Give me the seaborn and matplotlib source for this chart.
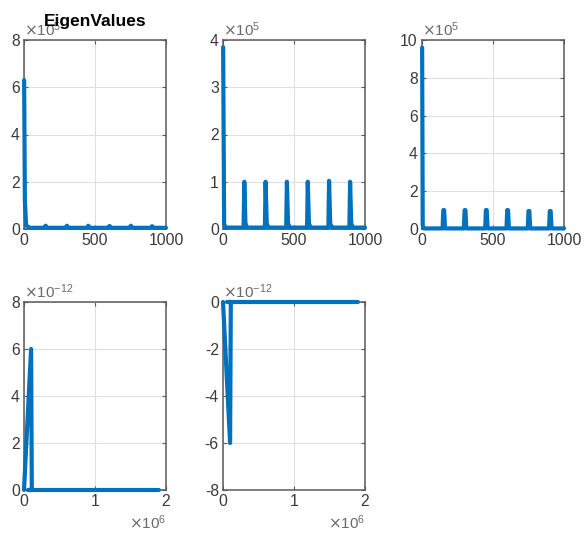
import numpy as np
import pandas as pd
import matplotlib
matplotlib.use("Agg")
import matplotlib.pyplot as plt
import seaborn as sns
from matplotlib.ticker import ScalarFormatter

sns.set_theme(style="whitegrid")
plt.rcParams['font.family'] = ['Liberation Sans', 'DejaVu Sans']
plt.rcParams['axes.unicode_minus'] = False

# ---- data ----
# panel 1 (units of 1e5)
p1_x = [1, 6, 15, 40, 145, 152, 165, 295, 302, 315, 445, 452, 465, 595, 602, 615, 745, 752, 765, 895, 902, 915, 1000]
p1_y = [6.3, 1.2, 0.15, 0.05, 0.05, 0.14, 0.05, 0.05, 0.14, 0.05, 0.05, 0.14, 0.05, 0.05, 0.13, 0.05, 0.05, 0.14, 0.05, 0.05, 0.12, 0.05, 0.05]
# panel 2 (units of 1e5)
p2_x = [1, 8, 20, 145, 150, 158, 170, 295, 300, 308, 320, 445, 450, 458, 470, 592, 597, 605, 617, 742, 747, 755, 767, 890, 895, 903, 915, 1000]
p2_y = [3.85, 0.1, 0.03, 0.03, 1.0, 0.12, 0.03, 0.03, 1.0, 0.12, 0.03, 0.03, 1.0, 0.12, 0.03, 0.03, 1.0, 0.12, 0.03, 0.03, 1.02, 0.12, 0.03, 0.03, 1.0, 0.12, 0.03, 0.03]
# panel 3 (units of 1e5)
p3_x = [1, 5, 12, 145, 150, 156, 162, 295, 300, 306, 312, 445, 450, 456, 462, 595, 600, 606, 612, 745, 750, 756, 762, 895, 900, 906, 912, 1000]
p3_y = [9.6, 0.2, 0.03, 0.03, 1.0, 1.0, 0.03, 0.03, 1.0, 1.0, 0.03, 0.03, 1.0, 1.0, 0.03, 0.03, 1.0, 1.0, 0.03, 0.03, 0.95, 0.95, 0.03, 0.03, 0.95, 0.95, 0.03, 0.03]
# panel 4 (x units 1e6, y units 1e-12)
p4_x = [0.0, 0.1, 0.11, 0.06, 0.12, 1.9]
p4_y = [0.0, 6.0, 0.0, 0.0, 0.0, 0.0]
# panel 5 (x units 1e6, y units 1e-12)
p5_x = [0.0, 0.1, 0.11, 0.06, 0.12, 1.9]
p5_y = [0.0, -6.0, 0.0, 0.0, 0.0, 0.0]

BLUE = "#0072BD"
TXT = "#3A3A3A"
W, H = 584, 541
fig = plt.figure(figsize=(W / 100, H / 100), dpi=100)
fig.patch.set_facecolor("white")


class PlainSci(ScalarFormatter):
    def __call__(self, x, pos=None):
        v = x / (10 ** self.orderOfMagnitude)
        return "%g" % round(v, 6)


def mk_ax(l, t, r, b):
    return fig.add_axes([l / W, 1 - b / H, (r - l) / W, (b - t) / H])


def style(ax, xlim, xticks, ylim, yticks, xpow=None, ypow=None):
    ax.set_facecolor("white")
    ax.set_xlim(*xlim)
    ax.set_ylim(*ylim)
    ax.set_xticks(xticks)
    ax.set_yticks(yticks)
    ax.grid(True, color="#E0E0E0", linewidth=0.8)
    for s in ax.spines.values():
        s.set_visible(True)
        s.set_color("#5A5A5A")
        s.set_linewidth(1.1)
    ax.tick_params(axis="both", colors="#5A5A5A", labelcolor=TXT, labelsize=11.3,
                   direction="in", length=3, width=0.8, pad=3)
    ax.tick_params(top=True, right=True, bottom=True, left=True)
    if xpow is not None:
        f = PlainSci(useMathText=True)
        f.set_powerlimits((xpow, xpow))
        ax.xaxis.set_major_formatter(f)
        ax.xaxis.get_offset_text().set_fontsize(11)
        ax.xaxis.get_offset_text().set_color("#6A6A6A")
    else:
        ax.xaxis.set_major_formatter(matplotlib.ticker.FormatStrFormatter("%g"))
    if ypow is not None:
        f = PlainSci(useMathText=True)
        f.set_powerlimits((ypow, ypow))
        ax.yaxis.set_major_formatter(f)
        ax.yaxis.get_offset_text().set_fontsize(11)
        ax.yaxis.get_offset_text().set_color("#6A6A6A")
    ax.set_xlabel("")
    ax.set_ylabel("")


def draw(ax, xs, ys, xs_scale, ys_scale):
    df = pd.DataFrame({"x": np.array(xs) * xs_scale, "y": np.array(ys) * ys_scale})
    sns.lineplot(data=df, x="x", y="y", ax=ax, color=BLUE, linewidth=3.0,
                 sort=False, estimator=None)
    for ln in ax.lines:
        ln.set_clip_on(False)
        ln.set_zorder(5)


ax1 = mk_ax(24, 40, 166, 229)
draw(ax1, p1_x, p1_y, 1, 1e5)
style(ax1, (0, 1000), [0, 500, 1000], (0, 8e5), [0, 2e5, 4e5, 6e5, 8e5], ypow=5)
ax1.set_title("EigenValues", fontsize=12.5, fontweight="bold", color="black", y=1.0, pad=10)

ax2 = mk_ax(223, 40, 365, 229)
draw(ax2, p2_x, p2_y, 1, 1e5)
style(ax2, (0, 1000), [0, 500, 1000], (0, 4e5), [0, 1e5, 2e5, 3e5, 4e5], ypow=5)

ax3 = mk_ax(422, 40, 564, 229)
draw(ax3, p3_x, p3_y, 1, 1e5)
style(ax3, (0, 1000), [0, 500, 1000], (0, 10e5), [0, 2e5, 4e5, 6e5, 8e5, 10e5], ypow=5)

ax4 = mk_ax(24, 302, 166, 490)
draw(ax4, p4_x, p4_y, 1e6, 1e-12)
style(ax4, (0, 2e6), [0, 1e6, 2e6], (0, 8e-12), [0, 2e-12, 4e-12, 6e-12, 8e-12], xpow=6, ypow=-12)

ax5 = mk_ax(223, 302, 365, 490)
draw(ax5, p5_x, p5_y, 1e6, 1e-12)
style(ax5, (0, 2e6), [0, 1e6, 2e6], (-8e-12, 0), [-8e-12, -6e-12, -4e-12, -2e-12, 0], xpow=6, ypow=-12)

fig.savefig("out.png", dpi=100, facecolor="white")
